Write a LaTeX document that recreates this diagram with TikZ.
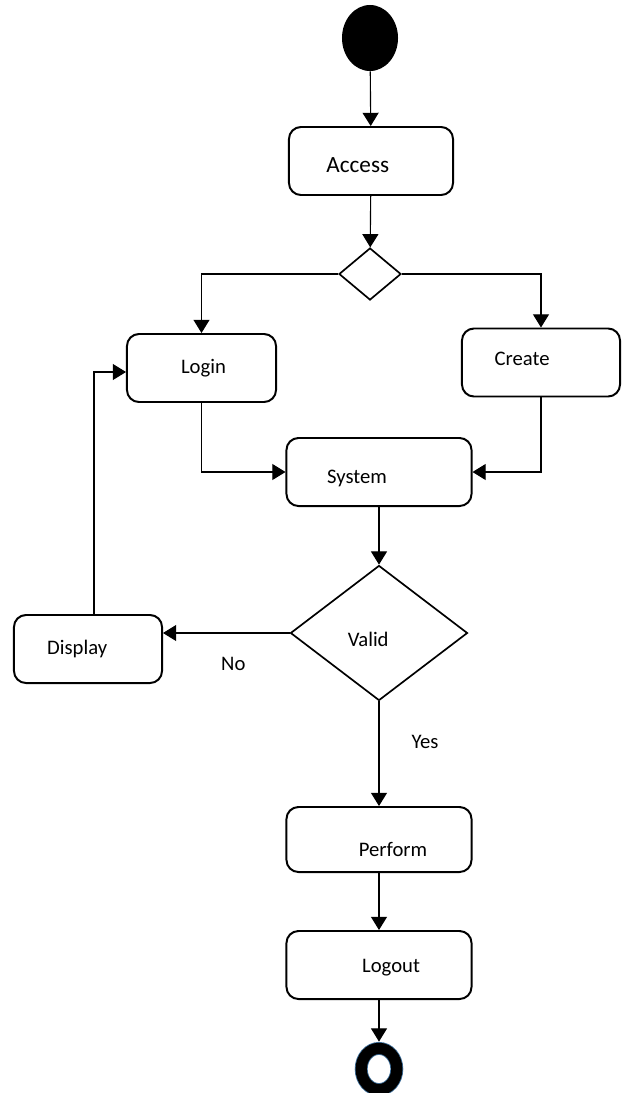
\documentclass[tikz,border=0pt]{standalone}
\usepackage{fontspec}
\setmainfont{Carlito}
\usetikzlibrary{shapes.geometric,arrows.meta,positioning}
\definecolor{ringblue}{HTML}{41719C}
\tikzset
{
    actbox/.style   = {rectangle, rounded corners=0.3cm, draw=black, line width=1.4pt, minimum height=1.7cm},
    decision/.style = {diamond, draw=black, line width=1.2pt, inner sep=0pt},
    hv/.style       = {to path={-| (\tikztotarget) \tikztonodes}},
    vh/.style       = {to path={|- (\tikztotarget) \tikztonodes}}
}

\begin{document}
\begin{tikzpicture}[x=0.025cm, y=-0.025cm, font=\fontsize{14.7}{17}\selectfont, >={Triangle[length=0.33cm,width=0.4cm]}]
\useasboundingbox (0,0) rectangle (628,1093);
\node (start)	[ellipse,fill=black,minimum width=1.4cm,minimum height=1.65cm] 	at (370,38)		{};
\node (access)	[actbox,minimum width=4.1cm,label={[xshift=-0.33cm,yshift=-0.1cm,font=\fontsize{16.5}{19}\selectfont]center:Access}]	at (371,161)	{};
\node (branch)	[decision,minimum width=1.55cm,minimum height=1.3cm]			at (370,274)	{};
\node (login)	[actbox,minimum width=3.725cm,label={[xshift=0.05cm]center:Login}]			at (201.5,368)	{};
\node (create)	[actbox,minimum width=3.95cm,label={[xshift=-0.47cm,yshift=0.1cm]center:Create}]		at (541,362.5)	{};
\node (system)	[actbox,minimum width=4.625cm,label={[xshift=-0.55cm,yshift=-0.17cm]center:System}]	at (379,472)	{};
\node (valid)	[decision,minimum width=4.425cm,minimum height=3.375cm,label={[xshift=-0.27cm,yshift=-0.17cm]center:Valid}]	at (379,633)	{};
\node (display)	[actbox,minimum width=3.7cm,label={[xshift=-0.27cm]center:Display}]		at (88,649)		{};
\node (perform)	[actbox,minimum width=4.625cm,minimum height=1.625cm,label={[xshift=0.35cm,yshift=-0.24cm]center:Perform}]	at (379,839.5)	{};
\node (logout)	[actbox,minimum width=4.625cm,label={[xshift=0.3cm,yshift=-0.07cm]center:Logout}]	at (379,965)	{};
\node (stop)	[ellipse,draw=ringblue,line width=0.6pt,double=black,double distance=0.28cm,minimum width=0.89cm,minimum height=1.03cm,inner sep=0pt]	at (379,1069)	{};

\path[line width=0.8pt]
(start)			edge[->]			(access)
(access)		edge[->]			(branch)
(branch.west)	edge[->,hv]			(login)
(branch.east)	edge[->,hv]			(create)
(login)			edge[->,vh]			(system)
(create)		edge[->,vh]			(system)
(system)		edge[->]			(valid)
(valid.west)	edge[->]			node[pos=0.445,yshift=-0.78cm] {No} (valid.west -| display.east)
([xshift=0.15cm]display.north)	edge[->,vh]	([yshift=-0.1cm]login.west)
(valid)			edge[->]			node[pos=0.39,xshift=1.15cm] {Yes} (perform)
(perform)		edge[->]			(logout)
(logout)		edge[->,shorten >=0.16cm]	(stop);
\end{tikzpicture}
\end{document}
